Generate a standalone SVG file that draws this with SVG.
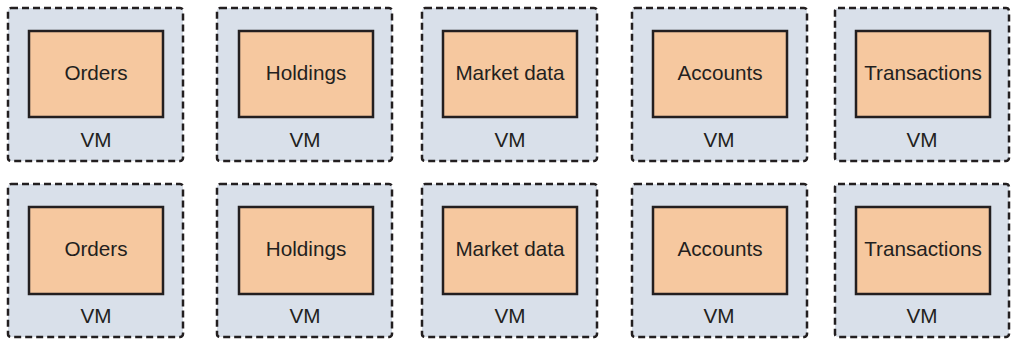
<svg xmlns="http://www.w3.org/2000/svg" width="1011" height="339" viewBox="0 0 1011 339">
<style>
.vm{fill:#d9e0ea;stroke:#231f20;stroke-width:2.5;stroke-dasharray:7 4}
.svc{fill:#f6c89f;stroke:#231f20;stroke-width:2.5}
text{font-family:"Liberation Sans",Arial,sans-serif;font-size:20.7px;fill:#231f20;text-anchor:middle}
</style>
<rect width="1011" height="339" fill="#ffffff"/>
<g id="connectors"></g>
<g id="vm-r1-c1"><rect class="vm" x="8" y="8" width="175" height="153" rx="3"/><rect class="svc" x="29" y="31" width="134" height="86"/><text x="96" y="80">Orders</text><text x="96" y="147">VM</text></g>
<g id="vm-r1-c2"><rect class="vm" x="217" y="8" width="175" height="153" rx="3"/><rect class="svc" x="239" y="31" width="134" height="86"/><text x="306" y="80">Holdings</text><text x="305" y="147">VM</text></g>
<g id="vm-r1-c3"><rect class="vm" x="422" y="8" width="175" height="153" rx="3"/><rect class="svc" x="443" y="31" width="134" height="86"/><text x="510" y="80">Market data</text><text x="510" y="147">VM</text></g>
<g id="vm-r1-c4"><rect class="vm" x="632" y="8" width="175" height="153" rx="3"/><rect class="svc" x="653" y="31" width="134" height="86"/><text x="720" y="80">Accounts</text><text x="719" y="147">VM</text></g>
<g id="vm-r1-c5"><rect class="vm" x="835" y="8" width="174" height="153" rx="3"/><rect class="svc" x="856" y="31" width="134" height="86"/><text x="923" y="80">Transactions</text><text x="922" y="147">VM</text></g>
<g id="vm-r2-c1"><rect class="vm" x="8" y="184" width="175" height="153" rx="3"/><rect class="svc" x="29" y="207" width="134" height="87"/><text x="96" y="256">Orders</text><text x="96" y="323">VM</text></g>
<g id="vm-r2-c2"><rect class="vm" x="217" y="184" width="175" height="153" rx="3"/><rect class="svc" x="239" y="207" width="134" height="87"/><text x="306" y="256">Holdings</text><text x="305" y="323">VM</text></g>
<g id="vm-r2-c3"><rect class="vm" x="422" y="184" width="175" height="153" rx="3"/><rect class="svc" x="443" y="207" width="134" height="87"/><text x="510" y="256">Market data</text><text x="510" y="323">VM</text></g>
<g id="vm-r2-c4"><rect class="vm" x="632" y="184" width="175" height="153" rx="3"/><rect class="svc" x="653" y="207" width="134" height="87"/><text x="720" y="256">Accounts</text><text x="719" y="323">VM</text></g>
<g id="vm-r2-c5"><rect class="vm" x="835" y="184" width="174" height="153" rx="3"/><rect class="svc" x="856" y="207" width="134" height="87"/><text x="923" y="256">Transactions</text><text x="922" y="323">VM</text></g>
</svg>
